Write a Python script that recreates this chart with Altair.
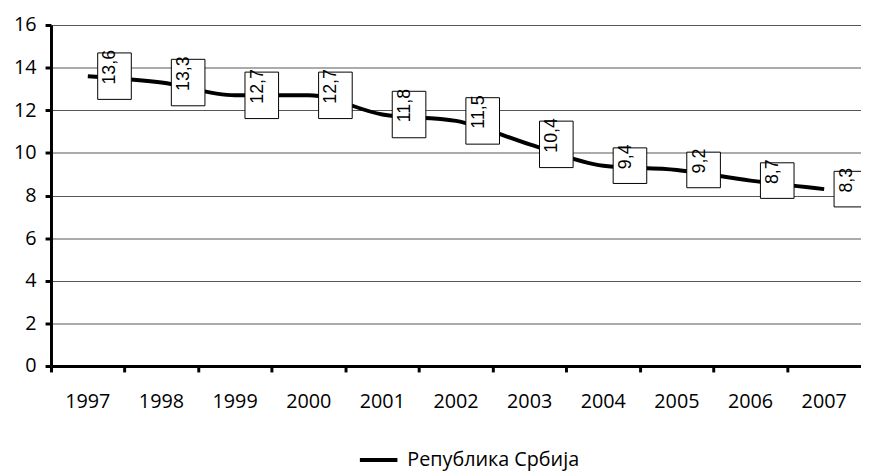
import altair as alt
import pandas as pd

years = ["1997", "1998", "1999", "2000", "2001", "2002", "2003", "2004", "2005", "2006", "2007"]
values = [13.6, 13.3, 12.7, 12.7, 11.8, 11.5, 10.4, 9.4, 9.2, 8.7, 8.3]
labels = ["13,6", "13,3", "12,7", "12,7", "11,8", "11,5", "10,4", "9,4", "9,2", "8,7", "8,3"]
series_name = "Република Србија"
y_ticks = [0, 2, 4, 6, 8, 10, 12, 14, 16]

df = pd.DataFrame({"year": years, "value": values, "label": labels})
df["series"] = series_name
df["long"] = df["label"].str.len() > 3

band = 74.5

x_enc = alt.X(
    "year:N",
    sort=years,
    scale=alt.Scale(type="band", paddingInner=0, paddingOuter=0),
    axis=alt.Axis(
        title=None, bandPosition=0, labelAngle=0,
        tickSize=6, tickWidth=3, tickColor="black",
        domainColor="black", domainWidth=3,
        labelFont="Open Sans", labelFontSize=20, labelColor="black",
        labelPadding=20, labelOverlap=False, labelFlush=False, grid=False,
    ),
)
y_enc = alt.Y(
    "value:Q",
    scale=alt.Scale(domain=[0, 16], nice=False),
    axis=alt.Axis(
        title=None, values=y_ticks, grid=True, gridColor="#555", gridWidth=1,
        domainColor="black", domainWidth=3, tickColor="black", tickWidth=3,
        tickSize=6, labelFont="Open Sans", labelFontSize=20, labelColor="black",
        labelPadding=9,
    ),
)

base = alt.Chart(df)

line = base.mark_line(strokeWidth=4, interpolate="monotone").encode(
    x=x_enc,
    y=y_enc,
    color=alt.Color(
        "series:N",
        scale=alt.Scale(domain=[series_name], range=["black"]),
        legend=alt.Legend(
            title=None, orient="none", legendX=310.5, legendY=419,
            symbolType="stroke", symbolSize=1444, symbolStrokeWidth=4,
            labelFont="Open Sans", labelFontSize=20, labelColor="black",
            labelOffset=8, padding=0, labelLimit=400,
        ),
    ),
)

path_long = "M-0.7234,-1H0.7234V1H-0.7234Z"
path_short = "M-0.9444,-1H0.9444V1H-0.9444Z"

box_long = base.transform_filter("datum.long").mark_point(
    shape=path_long, size=47 * 47, filled=True, fill="white", stroke="black",
    strokeWidth=1, opacity=1, xOffset=27,
).encode(x=x_enc, y=y_enc)

box_short = base.transform_filter("!datum.long").mark_point(
    shape=path_short, size=36 * 36, filled=True, fill="white", stroke="black",
    strokeWidth=1, opacity=1, xOffset=27,
).encode(x=x_enc, y=y_enc)

text = base.mark_text(
    angle=270, font="Liberation Sans", fontSize=18, xOffset=23, yOffset=-9,
    align="center", baseline="middle", color="black",
).encode(x=x_enc, y=y_enc, text="label:N")

chart = alt.layer(line, box_long, box_short, text).properties(
    width=band * 11,
    height=345,
    autosize=alt.AutoSizeParams(type="none"),
    padding={"left": 43.5, "top": 14.5, "right": 0, "bottom": 103},
).configure_view(stroke=None)

chart.save("out.html", embed_options={"renderer": "svg", "actions": False})
